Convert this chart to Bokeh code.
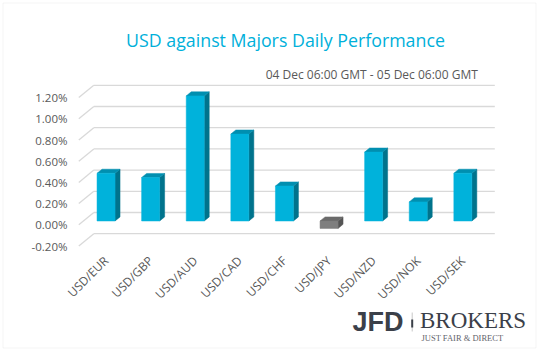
import math
from bokeh.plotting import figure
from bokeh.models import (FixedTicker, PrintfTickFormatter, Label, BoxAnnotation,
                          Range1d, LinearAxis)
from bokeh.embed import file_html
from bokeh.resources import INLINE

# ---------------- data ----------------
categories = ["USD/EUR", "USD/GBP", "USD/AUD", "USD/CAD", "USD/CHF",
              "USD/JPY", "USD/NZD", "USD/NOK", "USD/SEK"]
values = [0.45, 0.41, 1.18, 0.82, 0.33, -0.07, 0.65, 0.18, 0.45]   # percent
y_ticks = [-0.2, 0.0, 0.2, 0.4, 0.6, 0.8, 1.0, 1.2]

title_text = "USD against Majors Daily Performance"
subtitle_text = "04 Dec 06:00 GMT - 05 Dec 06:00 GMT"

# ---------------- layout ----------------
W, H = 538, 351
AXL, AXB = 72, 252                            # pixel positions of y axis / x axis
X0, XS = 100.9, 44.6                          # px of category 0 (front plane), px per category
Y0, YS = 224.3, 106.0                         # px of 0% (front plane), px per 1%


def dx(px):
    return (px - X0) / XS


def dy(py):
    return (Y0 - py) / YS


p = figure(width=W, height=H, output_backend="svg", toolbar_location=None,
           x_range=Range1d(dx(0), dx(W)), y_range=Range1d(dy(H), dy(0)),
           min_border=0, x_axis_location=None, y_axis_location=None)
p.outline_line_color = None
p.xgrid.visible = False
p.ygrid.visible = False
p.background_fill_color = "white"
p.border_fill_color = "white"

FONT = "Open Sans"
AX_COL = "#595959"
GRID_COL = "#d9d9d9"

# 3D depth of the plot box
DXd = 15.0 / XS
DYd = 12.3 / YS
x_front_left = dx(78.3)
x_back_right = dx(494.3)

n = len(y_ticks)
# side wall diagonals
p.segment(x0=[x_front_left] * n, y0=y_ticks,
          x1=[x_front_left + DXd] * n, y1=[t + DYd for t in y_ticks],
          line_color=GRID_COL, line_width=1.3)
# back wall gridlines
p.segment(x0=[x_front_left + DXd] * n, y0=[t + DYd for t in y_ticks],
          x1=[x_back_right] * n, y1=[t + DYd for t in y_ticks],
          line_color=GRID_COL, line_width=1.3)

# bars
f0 = 3.8 / 12.3
fx, fy = f0 * DXd, f0 * DYd
bdx, bdy = 5.0 / XS, 4.1 / YS
hw = 9.0 / XS

front_xs, front_ys, top_xs, top_ys, side_xs, side_ys = [], [], [], [], [], []
front_c, top_c, side_c = [], [], []
for i, v in enumerate(values):
    c = i + fx
    base = fy
    tip = v + fy
    lo, hi = min(base, tip), max(base, tip)
    front_xs.append([c - hw, c + hw, c + hw, c - hw])
    front_ys.append([lo, lo, hi, hi])
    top_xs.append([c - hw, c + hw, c + hw + bdx, c - hw + bdx])
    top_ys.append([hi, hi, hi + bdy, hi + bdy])
    side_xs.append([c + hw, c + hw + bdx, c + hw + bdx, c + hw])
    side_ys.append([lo, lo + bdy, hi + bdy, hi])
    if v >= 0:
        front_c.append("#00B2DB"); top_c.append("#008FB0"); side_c.append("#00738C")
    else:
        front_c.append("#7F7F7F"); top_c.append("#6A6A6A"); side_c.append("#555555")

p.patches(side_xs, side_ys, fill_color=side_c, line_color=side_c, line_width=0.5)
p.patches(top_xs, top_ys, fill_color=top_c, line_color=top_c, line_width=0.5)
p.patches(front_xs, front_ys, fill_color=front_c, line_color=front_c, line_width=0.5)

# axes placed inside the full-canvas frame
xaxis = LinearAxis(fixed_location=dy(AXB))
yaxis = LinearAxis(fixed_location=dx(AXL))
p.add_layout(xaxis, "below")
p.add_layout(yaxis, "left")

tick_pos = [i + fx for i in range(len(categories))]
xaxis.ticker = FixedTicker(ticks=tick_pos)
xaxis.major_label_overrides = {t: c for t, c in zip(tick_pos, categories)}
xaxis.major_label_orientation = math.pi / 4
yaxis.ticker = FixedTicker(ticks=y_ticks)
yaxis.formatter = PrintfTickFormatter(format="%.2f%%")
for ax in (xaxis, yaxis):
    ax.axis_line_color = None
    ax.major_tick_line_color = None
    ax.minor_tick_line_color = None
    ax.major_tick_out = 0
    ax.major_tick_in = 0
    ax.major_label_text_font = FONT
    ax.major_label_text_color = AX_COL
yaxis.major_label_text_font_size = "11.5px"
xaxis.major_label_text_font_size = "12px"
yaxis.major_label_standoff = 5
xaxis.major_label_standoff = 6

# titles
p.add_layout(Label(x=dx(285), y=dy(39.5), text=title_text, text_align="center",
                   text_baseline="middle", text_font=FONT, text_font_size="17.8px",
                   text_color="#00B0DA"))
p.add_layout(Label(x=dx(477.3), y=dy(74), text=subtitle_text, text_align="right",
                   text_baseline="middle", text_font=FONT, text_font_size="12px",
                   text_color=AX_COL))

# logo
p.add_layout(Label(x=dx(352), y=dy(321.5), text="JFD", text_align="left",
                   text_baseline="middle", text_font="Liberation Sans",
                   text_font_style="bold", text_font_size="27px", text_color="#3B4049"))
p.add_layout(BoxAnnotation(left=dx(411.2), right=dx(412.2), top=dy(312), bottom=dy(331),
                           fill_color="#C8C8C8", fill_alpha=1, line_color=None))
p.add_layout(BoxAnnotation(left=dx(410.7), right=dx(412.7), top=dy(319), bottom=dy(327),
                           fill_color="#3B4049", fill_alpha=1, line_color=None))
p.add_layout(Label(x=dx(419.5), y=dy(320), text="BROKERS", text_align="left",
                   text_baseline="middle", text_font="Liberation Serif",
                   text_font_size="23px", text_color="#3B4049"))
p.add_layout(Label(x=dx(421), y=dy(337.5), text="JUST FAIR & DIRECT", text_align="left",
                   text_baseline="middle", text_font="Liberation Serif",
                   text_font_size="8.5px", text_color="#5F646B"))

# outer border
p.add_layout(BoxAnnotation(left=dx(2.5), right=dx(535.5), top=dy(2.5), bottom=dy(347.5),
                           fill_alpha=0, line_color="#D9D9D9", line_width=1))

open("out.html", "w").write(file_html(p, INLINE))
